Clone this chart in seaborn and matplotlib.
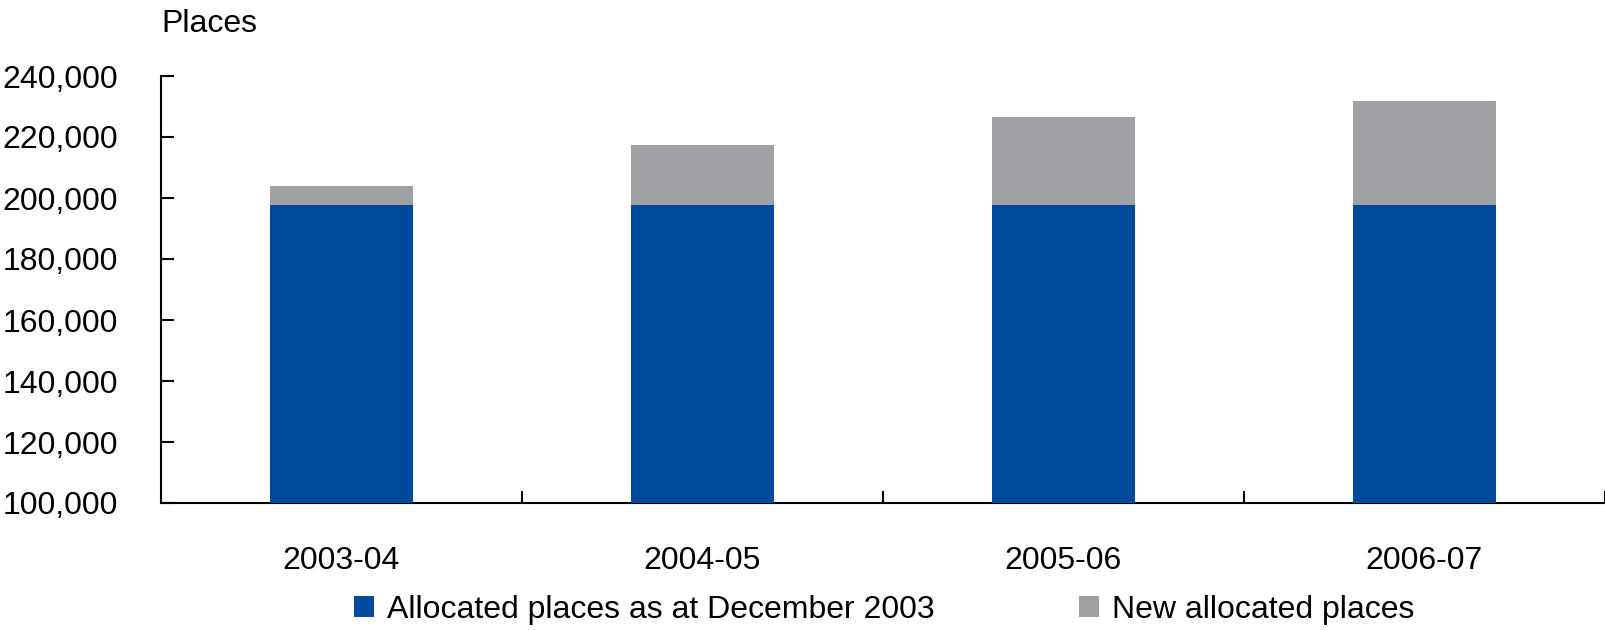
import matplotlib
matplotlib.use("Agg")
import matplotlib.pyplot as plt
from matplotlib.patches import Patch
from matplotlib.ticker import FuncFormatter
import pandas as pd
import seaborn as sns

# Data
years = ["2003-04", "2004-05", "2005-06", "2006-07"]
allocated_dec2003 = [197800, 197800, 197800, 197800]
new_places = [6100, 19700, 28800, 33900]

blue = "#004A9E"
grey = "#A0A1A4"

df = pd.DataFrame({"year": years,
                   "base": allocated_dec2003,
                   "new": new_places})
df["total"] = df["base"] + df["new"]

sns.set_style("white")
plt.rcParams["font.family"] = ["Liberation Sans", "DejaVu Sans"]
plt.rcParams["text.color"] = "black"

fs = 23
fig = plt.figure(figsize=(16.06, 6.3), dpi=100)
# axes box: left 161px, right 1605px, bottom 503px, top 76px
ax = fig.add_axes([161 / 1606, 1 - 503 / 630, 1444 / 1606, 427 / 630])

# stacked: total in grey, base drawn over it in blue
sns.barplot(data=df, x="year", y="total", color=grey, width=0.395,
            saturation=1, linewidth=0, ax=ax, zorder=2)
sns.barplot(data=df, x="year", y="base", color=blue, width=0.395,
            saturation=1, linewidth=0, ax=ax, zorder=3)

ax.set_ylim(100000, 240000)
ax.set_xlim(-0.5, 3.5)
ax.set_yticks(range(100000, 240001, 20000))
ax.yaxis.set_major_formatter(FuncFormatter(lambda v, p: f"{int(v):,}"))
ax.set_xlabel("")
ax.set_ylabel("")

for s in ["top", "right"]:
    ax.spines[s].set_visible(False)
for s in ["left", "bottom"]:
    ax.spines[s].set_color("black")
    ax.spines[s].set_linewidth(1.5)

ax.tick_params(axis="y", direction="in", length=9, width=1.5,
               labelsize=fs, pad=31, colors="black", left=True)
ax.tick_params(axis="x", which="major", length=0, labelsize=fs, pad=31,
               colors="black")
ax.set_xticks([0.5, 1.5, 2.5, 3.5], minor=True)
ax.tick_params(axis="x", which="minor", direction="in", length=9,
               width=1.5, bottom=True, color="black")

fig.text(161 / 1606, 1 - 24 / 630, "Places", fontsize=fs, ha="left",
         va="center", color="black")

handles = [Patch(facecolor=blue, edgecolor="none"),
           Patch(facecolor=grey, edgecolor="none")]
fig.legend(handles, ["Allocated places as at December 2003",
                     "New allocated places"],
           loc="center", bbox_to_anchor=(0.5505, 0.032), ncol=2,
           frameon=False, fontsize=fs, handlelength=0.65,
           handleheight=0.65, handletextpad=0.4, columnspacing=4.5,
           borderpad=0, borderaxespad=0, labelcolor="black")

fig.savefig("out.png", dpi=100)
